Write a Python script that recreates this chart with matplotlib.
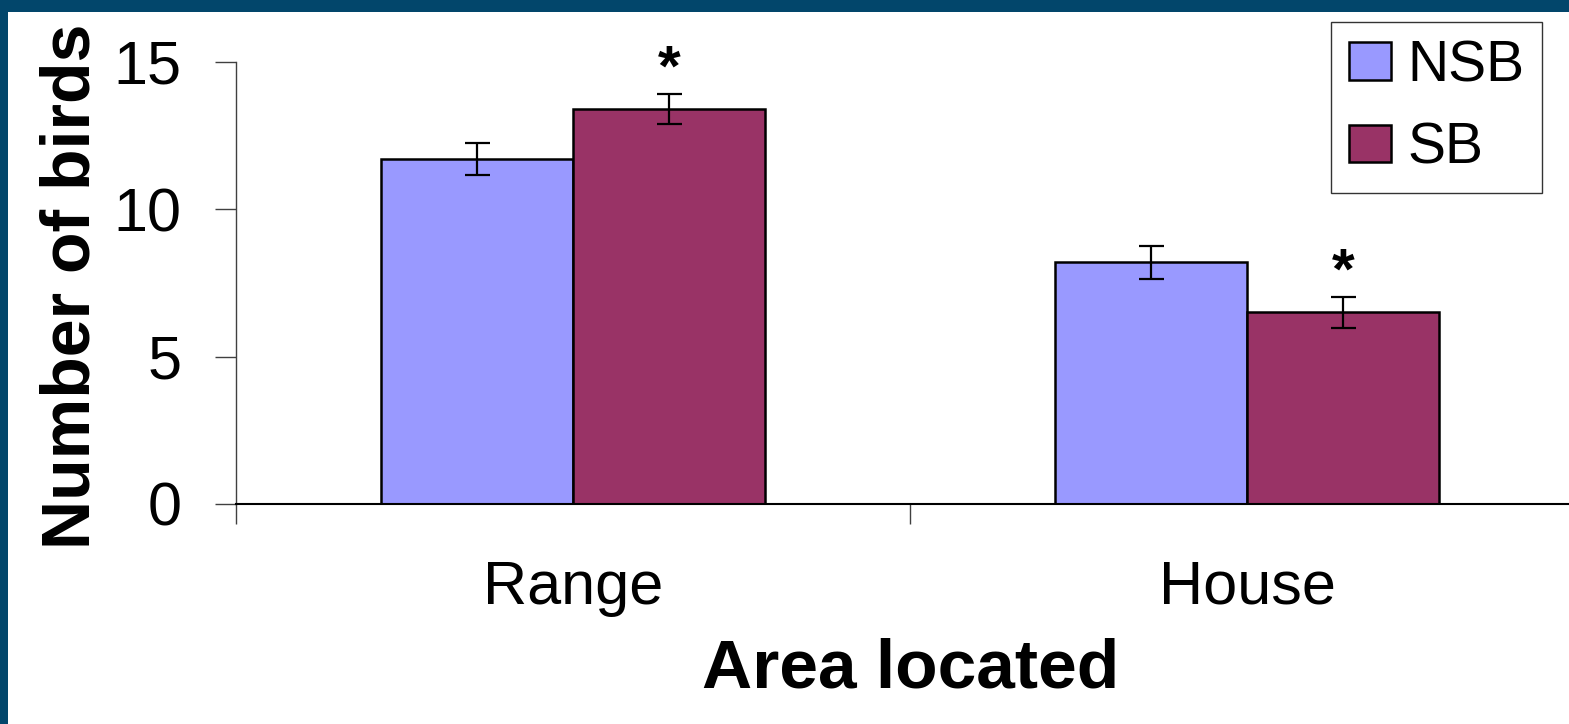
import matplotlib.pyplot as plt
import numpy as np
from matplotlib.patches import Rectangle

plt.rcParams['font.family'] = ['Liberation Sans', 'DejaVu Sans']

# bird counts by area, mean and error
areas = ["Range", "House"]
groups = ["NSB", "SB"]
nsb_mean = [11.7, 8.2]
nsb_err = [0.55, 0.55]
sb_mean = [13.4, 6.5]
sb_err = [0.52, 0.53]
sb_star = [True, True]  # significant difference marked above SB bar

colors = ["#9999FF", "#993366"]

fig = plt.figure(figsize=(15.69, 7.24), dpi=100)
fig.patch.set_facecolor("white")

# slide frame: dark blue strip along top and left
fig.patches.append(Rectangle((0, 1 - 12 / 724), 1, 12 / 724, transform=fig.transFigure,
                             facecolor="#02466B", edgecolor="none", zorder=0))
fig.patches.append(Rectangle((0, 0), 8 / 1569, 1, transform=fig.transFigure,
                             facecolor="#02466B", edgecolor="none", zorder=0))

ax = fig.add_axes([236 / 1569, 220 / 724, 1348 / 1569, 442 / 724])

x = np.arange(len(areas)) + 0.5
w = 0.285
ekw = dict(elinewidth=1.6, capthick=1.6, capsize=9, ecolor="black")
ax.bar(x - w / 2, nsb_mean, w, yerr=nsb_err, color=colors[0], edgecolor="black",
       linewidth=1.8, label=groups[0], error_kw=ekw, zorder=2)
ax.bar(x + w / 2, sb_mean, w, yerr=sb_err, color=colors[1], edgecolor="black",
       linewidth=1.8, label=groups[1], error_kw=ekw, zorder=2)

for xi, m, e, s in zip(x, sb_mean, sb_err, sb_star):
    if s:
        ax.annotate("*", (xi + w / 2, m + e), xytext=(0, 6), textcoords="offset points",
                    ha="center", va="baseline", fontsize=42, fontweight="bold")

ax.set_xlim(0, 2)
ax.set_ylim(0, 15)
ax.set_yticks([0, 5, 10, 15])
ax.set_xticks([0, 1, 2])
ax.set_xticklabels([])
ax.set_xticks(x, minor=True)
ax.set_xticklabels(areas, minor=True)

for s in ["top", "right"]:
    ax.spines[s].set_visible(False)
ax.spines["left"].set_color("#404040")
ax.spines["left"].set_linewidth(1.0)
ax.spines["bottom"].set_linewidth(1.5)
ax.spines["bottom"].set_zorder(3)

ax.tick_params(axis="y", direction="out", length=15, width=1.0, color="#404040",
               labelsize=44, pad=24)
ax.tick_params(axis="x", which="major", direction="out", length=14.5, width=1.0,
               color="#404040")
ax.tick_params(axis="x", which="minor", length=0, labelsize=44, pad=40)

fig.text(911 / 1569, 1 - 688 / 724, "Area located", ha="center", va="baseline",
         fontsize=50, fontweight="bold")
fig.text(72 / 1569, 1 - 286 / 724, "Number of birds", ha="center", va="center",
         rotation=90, fontsize=49, fontweight="bold")

leg = ax.legend(loc="upper right", bbox_to_anchor=(1542 / 1569, 1 - 22 / 724),
                bbox_transform=fig.transFigure, borderaxespad=0, fontsize=41,
                handlelength=0.74, handleheight=0.64, handletextpad=0.3,
                labelspacing=0.5, borderpad=0.3, fancybox=False, framealpha=1)
leg.get_frame().set_edgecolor("#333333")
leg.get_frame().set_linewidth(1.0)
for p in leg.get_patches():
    p.set_linewidth(1.8)

fig.savefig("out.png", dpi=100)
